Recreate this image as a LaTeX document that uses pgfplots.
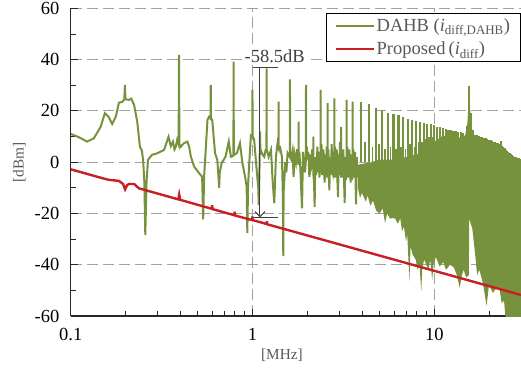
\documentclass[border=0pt]{standalone}
\usepackage{fontspec}
\setmainfont{Liberation Serif}
\usepackage{pgfplots}
\pgfplotsset{compat=1.18}
\usetikzlibrary{arrows.meta}
\definecolor{dahb}{RGB}{118,146,60}
\definecolor{prop}{RGB}{200,30,36}
\definecolor{gridc}{RGB}{160,160,160}
\definecolor{lbl}{RGB}{89,89,89}
\begin{document}
\begin{tikzpicture}[font=\fontsize{18.5}{22}\selectfont]
\begin{axis}[
  at={(0,0)}, anchor=south west,
  scale only axis, width=450.2pt, height=307.7pt,
  xmode=log, xmin=0.1, xmax=30, ymin=-60, ymax=60,
  axis x line*=bottom, axis y line*=left,
  xtick={0.1,1,10}, xticklabels={0.1,1,10},
  minor xtick={0.2,0.3,0.4,0.5,0.6,0.7,0.8,0.9,2,3,4,5,6,7,8,9,20,30},
  ytick={-60,-40,-20,0,20,40,60}, yticklabels={-60,-40,-20,0,20,40,60},
  minor ytick={-50,-30,-10,10,30,50},
  grid=major,
  major grid style={gridc, line width=1.1pt, dash pattern=on 11pt off 5pt},
  tick align=inside, major tick length=7pt, minor tick length=5pt,
  tick style={black!85, line width=0.9pt},
  axis line style={black!85, line width=1.3pt},
  yticklabel style={xshift=-8pt},
  xticklabel style={yshift=-9pt},
  xlabel={[MHz]}, ylabel={[dBm]},
  xlabel style={at={(axis description cs:0.469,-0.127)}, anchor=center, text=lbl, font=\fontsize{15.3}{18}\selectfont},
  ylabel style={at={(axis description cs:-0.1145,0.5)}, anchor=center, text=lbl, font=\fontsize{15.3}{18}\selectfont},
  legend style={at={(0.999,0.9838)}, anchor=north east, draw=black, line width=1pt, fill=white,
    font=\fontsize{18.5}{21}\selectfont, text=lbl, inner xsep=8pt, inner ysep=3pt, row sep=5pt,
    cells={anchor=west}},
  legend image code/.code={\draw[#1, line width=2pt] (0pt,0pt) -- (38pt,0pt);},
]
% DAHB, low-frequency part drawn as a line
\addplot[dahb, line width=2pt] coordinates {
(0.100,11.0) (0.111,9.7) (0.123,8.0) (0.134,9.3) (0.146,13.8) (0.154,19.1) (0.161,17.8) (0.169,14.9)
(0.177,17.8) (0.184,23.2) (0.192,23.5) (0.197,24.5) (0.1985,30.1) (0.200,24.5) (0.204,24.4) (0.209,24.3)
(0.215,24.8) (0.223,22.3) (0.232,15.8) (0.240,6.0) (0.246,4.5) (0.250,0.9) (0.254,-8) (0.257,-28.4)
(0.261,-8) (0.266,0.9) (0.279,2.8) (0.300,3.5) (0.326,4.8) (0.345,9.9) (0.355,6.3) (0.365,8.0)
(0.372,5.0) (0.378,6.0) (0.385,8.7) (0.392,7.0) (0.394,41.8) (0.396,7.0) (0.402,6.0) (0.420,7.4)
(0.438,8.0) (0.448,6.0) (0.458,2.1) (0.477,-1.7) (0.508,-4.3) (0.528,-5.7) (0.535,-22.3) (0.542,-5)
(0.556,8) (0.565,16.5) (0.576,17.7) (0.587,17) (0.589,30.1) (0.591,17) (0.600,16.5) (0.622,3.5)
(0.640,0.9) (0.650,-6) (0.655,-10) (0.660,-4) (0.676,-0.4) (0.710,2.1) (0.740,8.0) (0.760,2.1)
(0.785,2.5) (0.787,39.2) (0.789,2.8) (0.820,3.5) (0.853,7.4) (0.880,-0.4) (0.910,-5.7) (0.928,-9.5)
(0.936,-27.7) (0.945,-9) (0.960,0) (0.980,10.6) (0.997,10.5) (0.999,28.2) (1.001,10) (1.020,9)
(1.050,-1.7) (1.075,-10) (1.082,-16.7) (1.095,2) (1.100,12) (1.105,3) (1.110,4.8) (1.135,3) (1.160,2.1) (1.180,4.8)
(1.193,5) (1.195,36.6) (1.197,5) (1.226,2.1) (1.263,4.8) (1.289,-7) (1.317,-16) (1.345,2.1)
(1.373,7.4) (1.389,6) (1.391,23.6) (1.393,6) (1.416,6) (1.452,2) (1.470,-15) (1.476,-36.6)
(1.482,-12) (1.514,0) (1.535,-4) (1.559,3.6) (1.605,2) (1.607,32.3) (1.609,2) (1.634,1) (1.660,4) (1.682,-5.7)
(1.705,3) (1.734,0) (1.760,5) (1.790,-1) (1.792,15.8) (1.794,-1) (1.810,4) (1.831,-2) (1.872,-18) (1.895,4) (1.920,0)
(1.945,-4) (1.967,1) (1.969,30.1) (1.971,1) (1.990,6) (2.009,1) (2.030,4) (2.053,-5.7) (2.075,3)
(2.090,-3) (2.106,-2) (2.130,5) (2.158,-2) (2.160,10) (2.163,-5) (2.180,-8) (2.196,-17.5) (2.215,2)
(2.235,-5) (2.252,-3) (2.275,6) (2.290,-4) (2.310,1) (2.335,-6) (2.350,4) (2.368,0) (2.370,28.2)
(2.373,0) (2.395,7) (2.412,-5) (2.431,0) (2.455,5) (2.475,-4) (2.494,-8) (2.515,3) (2.538,-3)
(2.560,6) (2.575,-6) (2.588,-2) (2.590,23.0) (2.593,-2) (2.615,5) (2.630,-6) (2.647,-11) (2.668,2)
(2.685,-5) (2.704,-2) (2.725,7) (2.742,-3) (2.760,-4) (2.790,4) (2.805,-6) (2.816,-3) (2.818,24.9)
(2.821,-3) (2.845,6) (2.862,-6) (2.880,-3) (2.905,5) (2.930,-7) (2.954,-13.6) (2.978,3) (3.004,-2)
(3.030,8) (3.048,-5) (3.066,-2) (3.069,13.7) (3.072,-6) (3.100,4) (3.132,-6) (3.160,5) (3.190,-8)
(3.213,-16) (3.240,2) (3.268,-7) (3.293,-3) (3.296,24.3) (3.299,-3) (3.325,6) (3.352,-6) (3.381,-3)
(3.410,5) (3.440,-4) (3.468,-8) (3.497,3) (3.525,-7) (3.553,-4) (3.556,23.6) (3.559,-4) (3.590,5)
(3.612,-6) (3.634,-4) (3.665,4) (3.690,-8) (3.713,-16.5) (3.745,2) (3.775,-6) (3.800,-2) (3.850,-3)
};
\addlegendentry{DAHB (\textit{i}\textsubscript{diff,DAHB})}
% DAHB, dense high-frequency body
\addplot[fill=dahb, draw=none, forget plot] coordinates {
(3.80,-1) (4.5,0) (5,1) (6,1) (7,2) (8,3) (9,5) (10,8) (11,10) (12,10.5) (13,10) (14,9.5)
(14.8,10.5) (15.2,15) (15.56,27) (15.9,16) (16.3,10.5) (17,9) (18,8) (20,7) (22,6) (24,4)
(26,2.3) (28,0.8) (30,0)
(30,-62) (25,-62) (24.6,-60) (24.2,-54) (23.5,-55) (22.9,-50) (22,-49) (21,-51) (20,-48)
(19.4,-56) (18.5,-47) (17.7,-42) (17.2,-44) (16.9,-38) (16.2,-26) (15.56,-22) (15.5,-44)
(15.0,-45) (14.5,-42) (14.2,-44) (13.8,-49) (13.3,-44) (12.8,-41) (12.2,-40) (11.6,-42) (11.2,-39)
(10.7,-40.7) (10.2,-37) (9.9,-40) (9.74,-46) (9.5,-38) (9.3,-42) (9.03,-40) (8.8,-38)
(8.6,-41) (8.47,-50.5) (8.3,-40) (8.11,-42) (7.9,-38) (7.6,-36) (7.4,-33) (7.3,-46.6)
(7.1,-28) (7.0,-31) (6.8,-25) (6.65,-27) (6.5,-22) (6.3,-24) (6.1,-22) (5.91,-21.8)
(5.7,-22) (5.5,-20) (5.36,-23.8) (5.2,-18) (5.0,-20) (4.8,-19) (4.6,-15) (4.45,-17)
(4.3,-13) (4.2,-15.4) (4.0,-12) (3.9,-14) (3.8,-10)
};
% DAHB, smaller in-between spikes
\addplot[ycomb, dahb, line width=1.2pt, forget plot] coordinates {
(4.16,8) (4.56,6) (4.96,7) (5.36,5) (5.76,6) (6.16,5) (6.56,6) (6.96,5) (7.36,7) (7.76,6)
(8.16,8) (8.56,8) (8.96,9) (9.36,10) (9.76,10)
};
% DAHB, harmonic spikes
\addplot[ycomb, dahb, line width=2.2pt, forget plot] coordinates {
(3.96,23.6) (4.36,22.6) (4.76,21.3) (5.16,20.4) (5.56,19.3) (5.96,18.8) (6.36,18.2) (6.76,17.5)
(7.16,16.9) (7.56,16.5) (7.96,16.2) (8.36,15.8) (8.76,15.4) (9.16,15.0) (9.56,14.8) (9.96,14.4)
(10.36,13.8) (10.76,13.6) (11.16,13.2) (11.56,12.8) (11.96,12.6) (12.36,12.4) (12.76,12.2) (13.16,12.0)
(13.56,11.9) (13.96,11.8) (14.36,11.2) (14.76,10.2) (15.16,14) (15.56,29.7) (15.96,19) (16.36,12.5)
(16.76,10.6) (17.16,10.4) (17.56,10.2) (17.96,10) (18.36,9.8) (18.76,9.6) (19.16,9.3) (19.56,9.0)
(19.96,8.7) (20.36,8.5) (20.76,8.2) (21.16,8.0) (21.56,7.8) (21.96,7.6) (22.36,7.4) (22.76,7.2)
(23.16,7.0) (23.30,8.4) (23.56,6.4) (23.96,5.9) (24.36,5.4) (24.76,4.9) (25.16,4.5) (25.56,4.0)
(25.96,3.6) (26.36,3.2) (26.76,2.8) (27.16,2.5) (27.56,2.2) (27.96,2.0) (28.36,1.8) (28.76,1.6)
(29.16,1.5) (29.56,1.4) (29.96,1.3)
};
% Proposed
\addplot[prop, line width=2.4pt] coordinates {
(0.100,-2.8) (0.150,-6.3) (0.162,-6.9) (0.184,-7.3) (0.194,-8.5) (0.199,-10.6) (0.204,-9.0)
(0.209,-8.5) (0.223,-8.5) (0.237,-10.2) (0.390,-14.5) (0.395,-12.6) (0.400,-14.7)
(0.598,-18.2) (0.600,-16.8) (0.602,-18.3) (0.795,-20.7) (0.798,-19.3) (0.801,-20.8)
(0.995,-22.6) (0.998,-21.2) (1.001,-22.6) (1.195,-24.1) (1.198,-23.0) (1.201,-24.2) (30,-51.8)
};
\addlegendentry{Proposed\,(\textit{i}\textsubscript{diff})}
% -58.5 dB annotation
\draw[black!75, line width=1pt] (axis cs:1.0,37) -- (axis cs:1.373,37);
\draw[black!75, line width=1pt] (axis cs:1.0,-21.5) -- (axis cs:1.373,-21.5);
\draw[black!75, line width=1pt, -{Straight Barb[length=5pt,width=10pt]}] (axis cs:1.099,37) -- (axis cs:1.099,-21.5);
\node[fill=white, inner sep=1pt, text=black!75] at (axis cs:1.325,41.5) {-58.5dB};
\end{axis}
\pgfresetboundingbox
\path[use as bounding box] (-70.8pt,-57pt) rectangle (450.2pt,316pt);
\end{tikzpicture}
\end{document}
